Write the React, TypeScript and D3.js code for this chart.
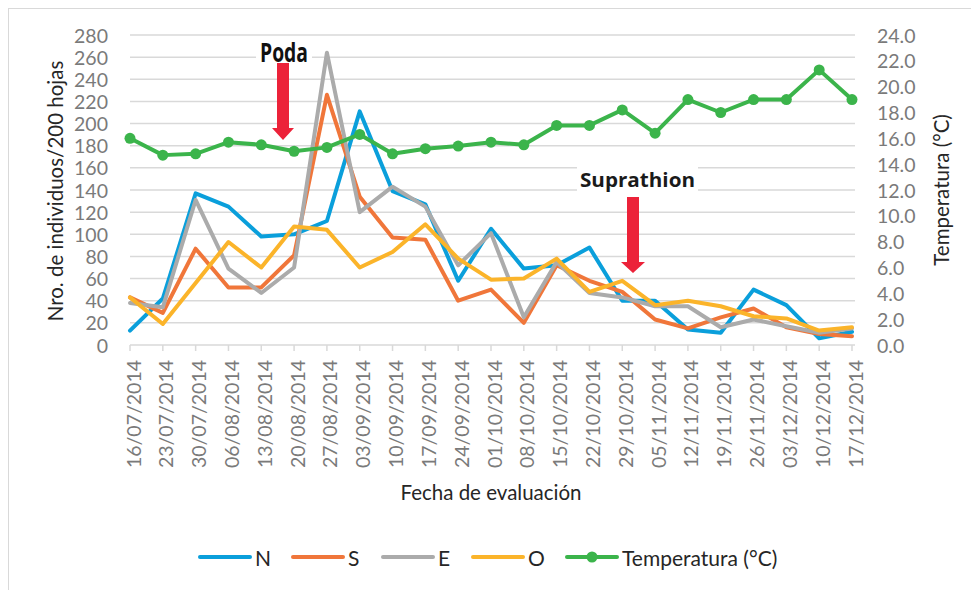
import React from "react";
import * as d3 from "d3";

const categories = ["16/07/2014","23/07/2014","30/07/2014","06/08/2014","13/08/2014","20/08/2014","27/08/2014","03/09/2014","10/09/2014","17/09/2014","24/09/2014","01/10/2014","08/10/2014","15/10/2014","22/10/2014","29/10/2014","05/11/2014","12/11/2014","19/11/2014","26/11/2014","03/12/2014","10/12/2014","17/12/2014"];
const seriesN = [13, 42, 137, 125, 98, 100, 112, 211, 139, 127, 58, 105, 69, 72, 88, 40, 40, 14, 11, 50, 36, 6, 12];
const seriesS = [43, 29, 87, 52, 52, 81, 226, 134, 97, 95, 40, 50, 20, 72, 58, 48, 23, 15, 25, 33, 16, 10, 8];
const seriesE = [38, 34, 131, 69, 47, 70, 264, 120, 143, 125, 72, 101, 25, 75, 47, 43, 35, 35, 16, 23, 17, 11, 15];
const seriesO = [43, 19, 56, 93, 70, 107, 104, 70, 84, 109, 78, 59, 60, 78, 48, 58, 36, 40, 35, 26, 24, 13, 16];
const temperatura = [16.0, 14.7, 14.8, 15.7, 15.5, 15.0, 15.3, 16.3, 14.8, 15.2, 15.4, 15.7, 15.5, 17.0, 17.0, 18.2, 16.4, 19.0, 18.0, 19.0, 19.0, 21.3, 19.0];
const leftTicks = d3.range(0, 281, 20);
const rightTicks = d3.range(0, 24.1, 2);
const seriesNames = ["N", "S", "E", "O"];
const seriesColors = ["#0A9FDB", "#F0763A", "#ABABAB", "#FBB42A"];
const tempName = "Temperatura (°C)";
const tempColor = "#3BB44B";

const FONT = "Lato, 'Open Sans', sans-serif";

export default function App() {
  const x = d3.scalePoint<string>().domain(categories).range([130, 852]);
  const yL = d3.scaleLinear().domain([0, 280]).range([345, 35]);
  const yR = d3.scaleLinear().domain([0, 24]).range([345, 35]);
  const lineL = d3.line<number>().x((_, i) => x(categories[i])!).y((d) => yL(d));
  const lineR = d3.line<number>().x((_, i) => x(categories[i])!).y((d) => yR(d));
  const allSeries = [seriesN, seriesS, seriesE, seriesO];

  const legendX = [200, 293, 383, 473, 567];
  const legendItems = [
    ...seriesNames.map((n, i) => ({ name: n, color: seriesColors[i], x0: legendX[i], marker: false })),
    { name: tempName, color: tempColor, x0: legendX[4], marker: true },
  ];
  const legY = 557;

  return (
    <svg width={971} height={590} style={{ position: "absolute", left: 0, top: 0, background: "#fff" }} fontFamily={FONT}>
      <rect x={8.5} y={8.5} width={1000} height={1000} fill="#fff" stroke="#d9d9d9" strokeWidth={1} />
      {leftTicks.map((t) => (
        <line key={"g" + t} x1={130} x2={855} y1={yL(t)} y2={yL(t)} stroke="#d9d9d9" strokeWidth={1.5} />
      ))}
      {categories.map((c) => (
        <line key={"t" + c} x1={x(c)} x2={x(c)} y1={345} y2={351} stroke="#d9d9d9" strokeWidth={1.5} />
      ))}
      {leftTicks.map((t) => (
        <text key={"l" + t} x={108} y={yL(t)} textAnchor="end" dominantBaseline="central" fontSize={19.5} fill="#7a7a7a">{t}</text>
      ))}
      {rightTicks.map((t) => (
        <text key={"r" + t} x={877} y={yR(t)} textAnchor="start" dominantBaseline="central" fontSize={19.5} fill="#7a7a7a">{d3.format(".1f")(t)}</text>
      ))}
      {categories.map((c) => (
        <text key={"xl" + c} transform={`translate(${x(c)! + 3},360) rotate(-90)`} textAnchor="end" dominantBaseline="central" fontSize={19.5} fill="#7a7a7a">{c}</text>
      ))}
      <text transform="translate(55,191) rotate(-90)" textAnchor="middle" dominantBaseline="central" fontSize={20.5} fill="#262626">Nro. de individuos/200 hojas</text>
      <text transform="translate(941,190) rotate(-90)" textAnchor="middle" dominantBaseline="central" fontSize={20.5} fill="#262626">Temperatura (°C)</text>
      <text x={491} y={492} textAnchor="middle" dominantBaseline="central" fontSize={20.5} fill="#262626">Fecha de evaluación</text>
      {allSeries.map((s, i) => (
        <path key={"s" + i} d={lineL(s)!} fill="none" stroke={seriesColors[i]} strokeWidth={4} strokeLinejoin="round" strokeLinecap="round" />
      ))}
      <path d={lineR(temperatura)!} fill="none" stroke={tempColor} strokeWidth={4} strokeLinejoin="round" />
      {temperatura.map((t, i) => (
        <circle key={"c" + i} cx={x(categories[i])} cy={yR(t)} r={5.5} fill={tempColor} />
      ))}
      <rect x={256} y={40} width={56} height={26} fill="#fff" />
      <text x={260} y={62} textLength={48} lengthAdjust="spacingAndGlyphs" fontSize={27} fontWeight="bold" fontFamily="'Open Sans', sans-serif" fill="#111">Poda</text>
      <path d="M277,63 L289,63 L289,128 L294,128 L283,140 L272,128 L277,128 Z" fill="#EC2239" />
      <rect x={577} y={167} width={121} height={26} fill="#fff" />
      <text x={580} y={187} textLength={115} lengthAdjust="spacingAndGlyphs" fontSize={19} fontWeight="bold" fontFamily="'Open Sans', sans-serif" fill="#1a1a1a">Suprathion</text>
      <path d="M627,197 L639,197 L639,262 L645,262 L633,273 L621,262 L627,262 Z" fill="#EC2239" />
      {legendItems.map((it) => (
        <g key={"lg" + it.name}>
          <line x1={it.x0} x2={it.x0 + 50} y1={legY} y2={legY} stroke={it.color} strokeWidth={4} strokeLinecap="round" />
          {it.marker && <circle cx={it.x0 + 25} cy={legY} r={5.5} fill={it.color} />}
          <text x={it.x0 + 55} y={legY} dominantBaseline="central" fontSize={21} fill="#262626">{it.name}</text>
        </g>
      ))}
    </svg>
  );
}
